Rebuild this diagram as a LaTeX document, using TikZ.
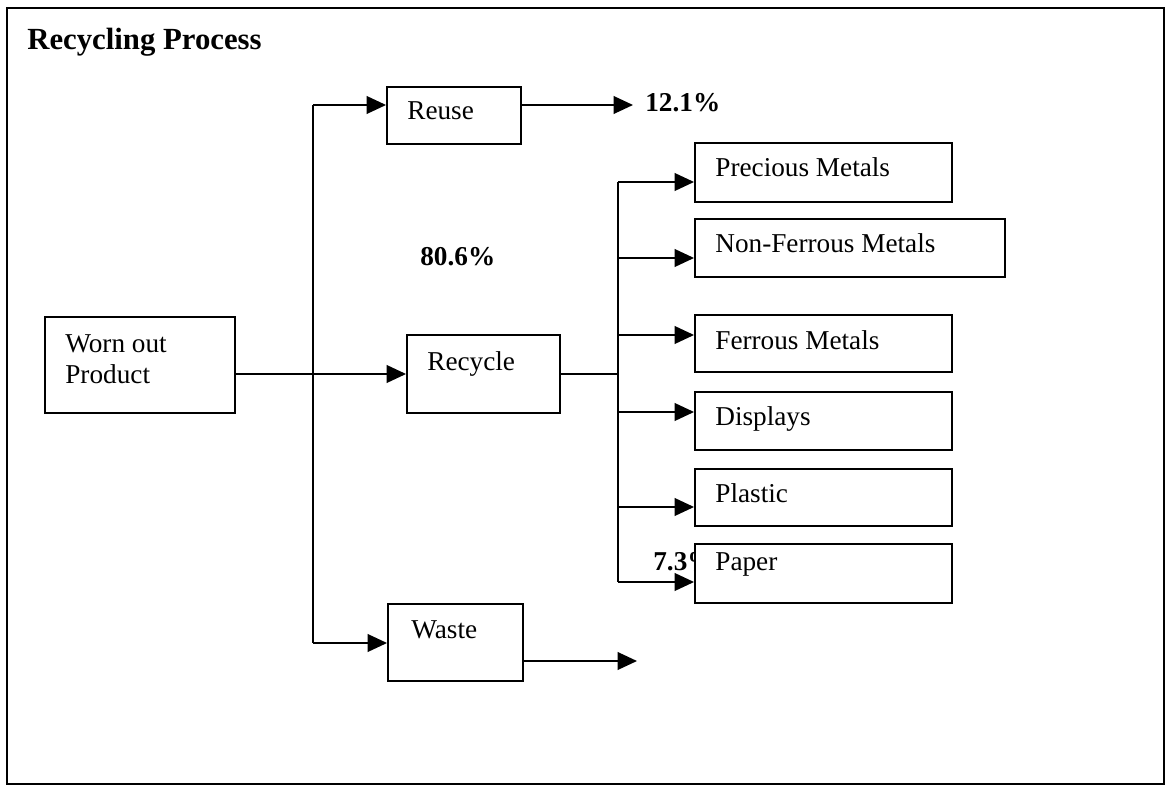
\documentclass[tikz,border=0pt]{standalone}
\usepackage{fontspec}
\setmainfont{Liberation Serif}
\usetikzlibrary{arrows.meta,fit}
\begin{document}
\begin{tikzpicture}[x=0.02cm,y=-0.02cm,
  box/.style={draw,line width=1.1pt,fill=white,inner sep=0pt},
  lbl/.style={anchor=base west,inner sep=0pt,font=\fontsize{15.5}{17}\selectfont},
  pct/.style={anchor=base west,inner sep=0pt,font=\fontsize{15.5}{17}\selectfont\bfseries},
  conn/.style={line width=1.1pt},
  arr/.style={line width=1.1pt,-{Triangle[length=11pt,width=10pt]}}]
\useasboundingbox (0,0) rectangle (1165,793);
\draw[line width=1pt] (7,8) rectangle (1164,784);
\node[anchor=base west,inner sep=0pt,font=\fontsize{17.5}{20}\selectfont\bfseries] (title) at (27,50) {Recycling Process};
% percentages
\node[pct] (p121) at (645,112) {12.1\%};
\node[pct] (p806) at (420,266) {80.6\%};
\node[pct] (p73) at (653,570) {7.3\%};
% boxes
\node[box,fit={(45,317)(235,413)}] (wo) {};
\node[box,fit={(387,87)(521,144)}] (reuse) {};
\node[box,fit={(407,335)(560,413)}] (recyc) {};
\node[box,fit={(388,604)(523,681)}] (waste) {};
\node[box,fit={(695,143)(952,202)}] (pm) {};
\node[box,fit={(695,219)(1005,277)}] (nf) {};
\node[box,fit={(695,315)(952,372)}] (fm) {};
\node[box,fit={(695,392)(952,450)}] (dp) {};
\node[box,fit={(695,469)(952,526)}] (pl) {};
\node[box,fit={(695,544)(952,603)}] (pa) {};
% texts
\node[lbl] (wot1) at (65,353) {Worn out};
\node[lbl] (wot2) at (65,383) {Product};
\node[lbl] (reuset) at (407,120) {Reuse};
\node[lbl] (recyct) at (427,371) {Recycle};
\node[lbl] (wastet) at (411,638) {Waste};
\node[lbl] (pmt) at (715,177) {Precious Metals};
\node[lbl] (nft) at (715,253) {Non-Ferrous Metals};
\node[lbl] (fmt) at (715,350) {Ferrous Metals};
\node[lbl] (dpt) at (715,425) {Displays};
\node[lbl] (plt) at (715,502) {Plastic};
\node[lbl] (pat) at (715,570) {Paper};
% left trunk
\coordinate (ta) at (313,105);
\coordinate (tb) at (313,643);
\coordinate (reuseout) at (633,105);
\coordinate (wasteout) at (637,661);
\draw[conn] (ta) -- (tb);
\draw[arr] (wo.east |- recyc.west) -- (recyc.west);
\draw[arr] (ta) -- (ta -| reuse.west);
\draw[arr] (tb) -- (tb -| waste.west);
\draw[arr] (reuseout -| reuse.east) -- (reuseout);
\draw[arr] (wasteout -| waste.east) -- (wasteout);
% right bus
\coordinate (ba) at (618,182);
\coordinate (bb) at (618,258);
\coordinate (bc) at (618,335);
\coordinate (bd) at (618,412);
\coordinate (be) at (618,507);
\coordinate (bf) at (618,582);
\draw[conn] (recyc.east) -- (recyc.east -| ba);
\draw[conn] (ba) -- (bf);
\draw[arr] (ba) -- (ba -| pm.west);
\draw[arr] (bb) -- (bb -| nf.west);
\draw[arr] (bc) -- (bc -| fm.west);
\draw[arr] (bd) -- (bd -| dp.west);
\draw[arr] (be) -- (be -| pl.west);
\draw[arr] (bf) -- (bf -| pa.west);
\end{tikzpicture}
\end{document}
